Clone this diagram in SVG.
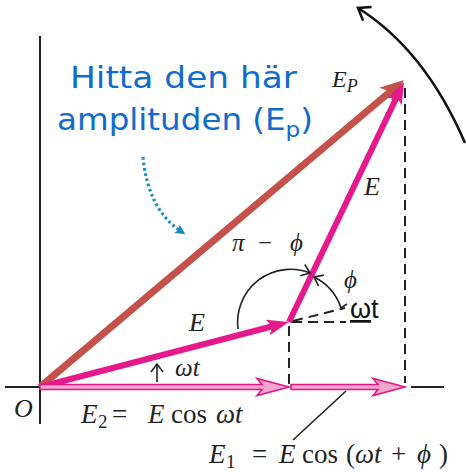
<svg xmlns="http://www.w3.org/2000/svg" width="466" height="472" viewBox="0 0 466 472">
<style>
.ax{stroke:#222;stroke-width:2;fill:none}
.dash{stroke:#222;stroke-width:2;stroke-dasharray:10 6;fill:none}
.thin{stroke:#222;stroke-width:1.6;fill:none}
.m{font-family:"Liberation Serif","Times New Roman",serif;font-style:italic;fill:#222}
.r{font-family:"Liberation Serif","Times New Roman",serif;fill:#222}
.blue{font-family:"Comic Sans MS","DejaVu Sans",sans-serif;fill:#0f6ccc;font-size:31px}
.hz{fill:#f3a5cd;stroke:#e0198a;stroke-width:1.6;stroke-linejoin:miter}
</style>
<defs>
<marker id="pinkHead" markerUnits="userSpaceOnUse" markerWidth="40" markerHeight="40" refX="0" refY="0" orient="auto" overflow="visible" viewBox="-20 -20 40 40">
<path d="M10,0 L-12,-8 L-7,0 L-12,8 Z" fill="#e6198c"/>
</marker>
<marker id="brownHead" markerUnits="userSpaceOnUse" markerWidth="40" markerHeight="40" refX="0" refY="0" orient="auto" overflow="visible" viewBox="-20 -20 40 40">
<path d="M10,0 L-14,-10 L-8,0 L-14,10 Z" fill="#c4514a"/>
</marker>
<marker id="openHead" markerUnits="userSpaceOnUse" markerWidth="30" markerHeight="30" refX="0" refY="0" orient="auto" overflow="visible" viewBox="-15 -15 30 30">
<path d="M-8,-6 L0,0 L-8,6" fill="none" stroke="#222" stroke-width="1.6"/>
</marker>
<marker id="bigOpenHead" markerUnits="userSpaceOnUse" markerWidth="30" markerHeight="30" refX="0" refY="0" orient="auto" overflow="visible" viewBox="-15 -15 30 30">
<path d="M-11,-8 L0,0 L-11,8" fill="none" stroke="#111" stroke-width="2.6"/>
</marker>
<marker id="blueHead" markerUnits="userSpaceOnUse" markerWidth="20" markerHeight="20" refX="0" refY="0" orient="auto" overflow="visible" viewBox="-10 -10 20 20">
<path d="M4,0 L-6,-5 L-4,0 L-6,5 Z" fill="#1a8fbf"/>
</marker>
</defs>

<g id="axes">
<line class="ax" x1="40" y1="36" x2="40" y2="424"/>
<line class="ax" x1="5" y1="387" x2="40" y2="387"/>
<line class="ax" x1="411" y1="387" x2="444" y2="387"/>
</g>

<g id="guides">
<line class="dash" x1="289" y1="326" x2="289" y2="385"/>
<line class="dash" x1="405" y1="88" x2="405" y2="383"/>
<line class="dash" x1="292" y1="322" x2="346" y2="322"/>
<line class="dash" x1="293" y1="321" x2="345" y2="308"/>
</g>

<g id="connectors">
<line id="vEp" x1="40" y1="387" x2="396.4" y2="86.4" stroke="#c4514a" stroke-width="7" marker-end="url(#brownHead)"/>
<line id="vE1" x1="40" y1="387" x2="279.3" y2="324.5" stroke="#e6198c" stroke-width="6" marker-end="url(#pinkHead)"/>
<line id="vE2" x1="289" y1="322" x2="399.7" y2="91" stroke="#e6198c" stroke-width="6" marker-end="url(#pinkHead)"/>
<path id="hE2" class="hz" d="M40,384.5 H262 L257,378.5 L289,387 L257,395.5 L262,389.5 H40 Z"/>
<path id="hE1" class="hz" d="M291,384.5 H378 L373,378.5 L405,387 L373,395.5 L378,389.5 H291 Z"/>
<path id="arcPiPhi" class="thin" d="M238,329 A 53 53 0 0 1 310,273" marker-end="url(#openHead)"/>
<path id="arcPhi" class="thin" d="M347,304 L341,308 A 53 53 0 0 0 314,277" marker-end="url(#openHead)"/>
<path id="arcWt" class="thin" d="M157,382 L157,364" marker-end="url(#openHead)"/>
<line id="leader" class="thin" x1="293" y1="440" x2="346" y2="391"/>
<path id="rotation" d="M465,143 Q 425,50 358,8" fill="none" stroke="#111" stroke-width="2.6" marker-end="url(#bigOpenHead)"/>
<path id="pointer" d="M143,157 Q 148,210 182,232" fill="none" stroke="#1a8fbf" stroke-width="3.2" stroke-dasharray="2.6 2.8" marker-end="url(#blueHead)"/>
</g>

<g id="callout">
<text class="blue" x="70" y="88" textLength="227" lengthAdjust="spacingAndGlyphs">Hitta den här</text>
<text class="blue" x="57" y="130" textLength="256" lengthAdjust="spacingAndGlyphs">amplituden (E<tspan font-size="22" dy="7">p</tspan><tspan dy="-7">)</tspan></text>
</g>

<g id="labels">
<text class="m" x="14" y="417" style="font-size:26px">O</text>
<text class="m" x="189" y="331" style="font-size:26px">E</text>
<text class="m" x="364" y="195" style="font-size:26px">E</text>
<text class="m" x="332" y="87" style="font-size:24px">E<tspan style="font-size:18px" dy="5">P</tspan></text>
<text class="m" y="251" style="font-size:25px"><tspan x="232">π</tspan><tspan x="258" font-style="normal">−</tspan><tspan x="290">ϕ</tspan></text>
<text class="m" x="344" y="288" style="font-size:25px">ϕ</text>
<text class="m" x="175" y="376" style="font-size:25px">ωt</text>
<text x="350" y="318" font-family="Liberation Sans, Arial, sans-serif" style="font-size:27px" fill="#111"><tspan text-decoration="underline">ω</tspan>t</text>
<text class="r" y="423" style="font-size:27px"><tspan x="81" font-style="italic">E</tspan><tspan x="98" dy="5" style="font-size:19px">2</tspan><tspan x="112" dy="-5">=</tspan><tspan x="148" font-style="italic">E</tspan><tspan x="171">cos</tspan><tspan x="216" font-style="italic">ωt</tspan></text>
<text class="r" y="463" style="font-size:27px"><tspan x="209" font-style="italic">E</tspan><tspan x="226" dy="5" style="font-size:19px">1</tspan><tspan x="252" dy="-5">=</tspan><tspan x="279" font-style="italic">E</tspan><tspan x="302">cos</tspan><tspan x="346">(</tspan><tspan x="355" font-style="italic">ωt</tspan><tspan x="391">+</tspan><tspan x="417" font-style="italic">ϕ</tspan><tspan x="439">)</tspan></text>
</g>
</svg>
